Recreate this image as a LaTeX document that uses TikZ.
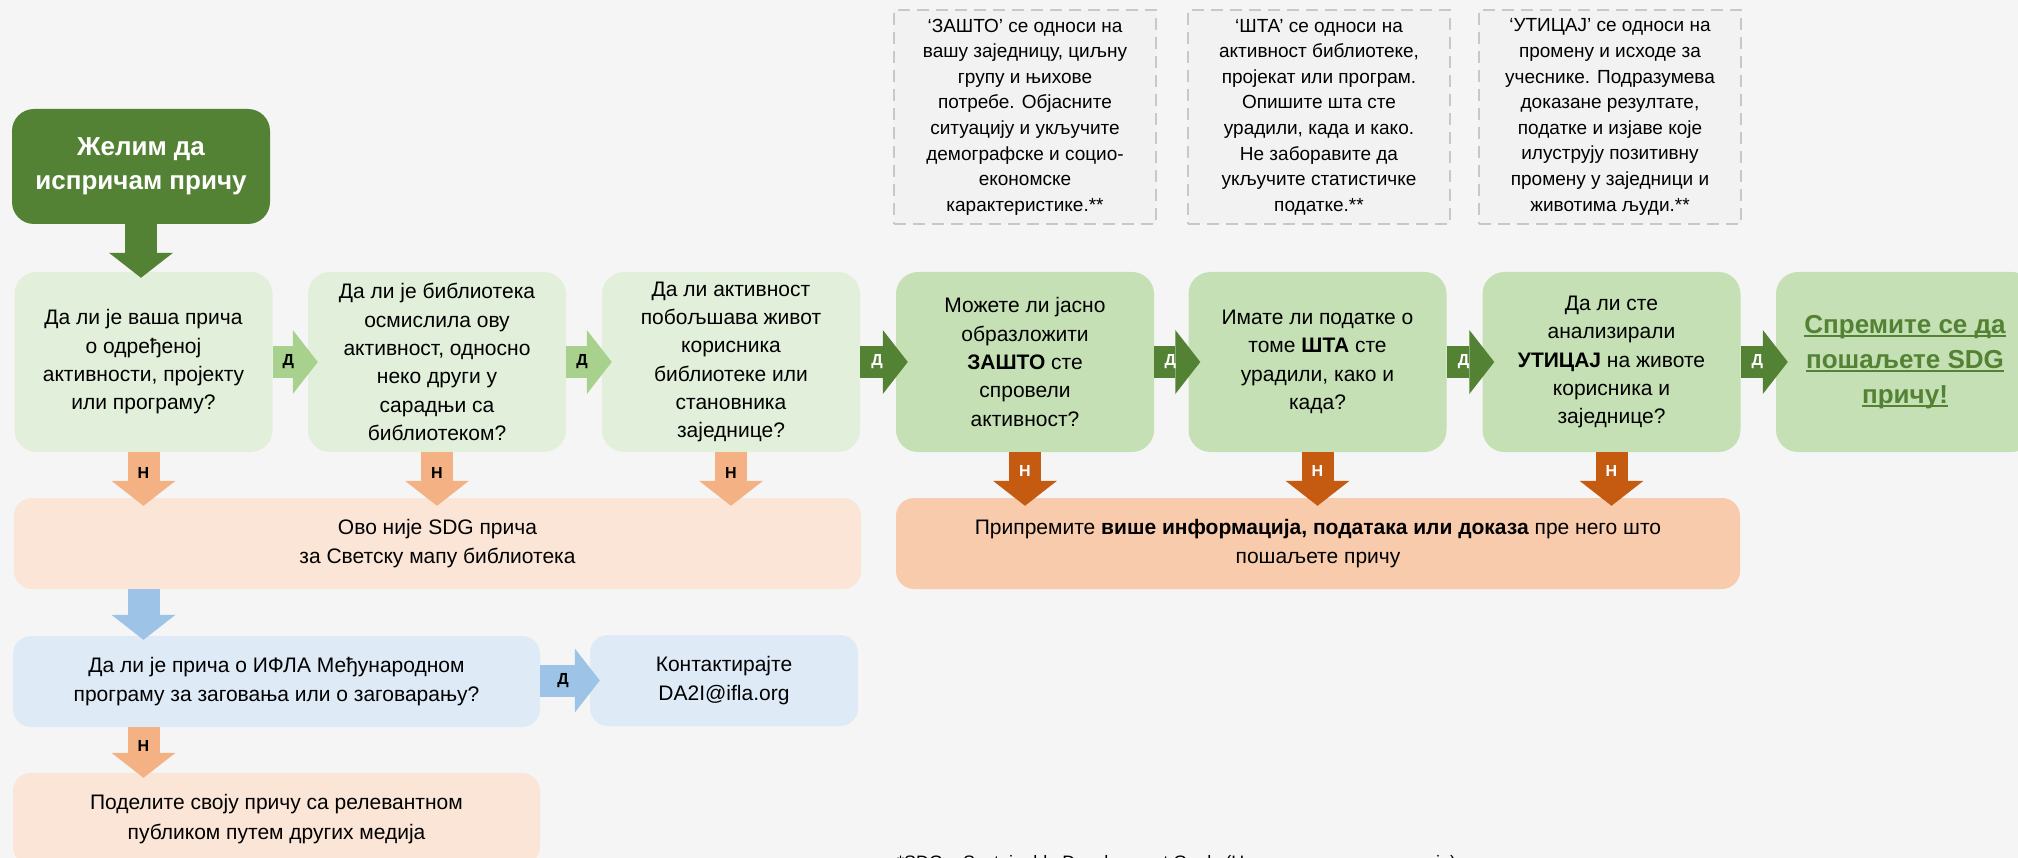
\documentclass[tikz,border=0pt]{standalone}
\usepackage{fontspec}
\setmainfont{Liberation Sans}
\usetikzlibrary{arrows.meta,calc}
\definecolor{bgc}{HTML}{F5F5F5}
\definecolor{dgreen}{HTML}{548235}
\definecolor{lgbox}{HTML}{E2EFDA}
\definecolor{mgbox}{HTML}{C5E0B4}
\definecolor{lgarrow}{HTML}{A9D18E}
\definecolor{peach}{HTML}{FBE5D6}
\definecolor{lorange}{HTML}{F4B183}
\definecolor{dorange}{HTML}{C55A11}
\definecolor{obox}{HTML}{F8CBAD}
\definecolor{bbox}{HTML}{DEEBF7}
\definecolor{barrowc}{HTML}{9DC3E6}
\definecolor{dashc}{HTML}{C8C8C8}
\definecolor{notefill}{HTML}{F2F2F2}
\newcommand\myul[1]{\setbox0\hbox{#1}\rlap{\rule[-3.5pt]{\wd0}{1.8pt}}\box0}
\tikzset{
  qbox/.style={rectangle, rounded corners=22pt, inner sep=0pt, align=center,
    minimum width=258pt, minimum height=180pt,
    font=\fontsize{21}{28.3}\selectfont},
  lightq/.style={qbox, fill=lgbox},
  midq/.style={qbox, fill=mgbox},
  widebox/.style={rectangle, rounded corners=18pt, inner sep=0pt, align=center,
    minimum height=91pt, font=\fontsize{21}{29.5}\selectfont},
  notebox/.style={rectangle, draw=dashc, line width=2pt, dash pattern=on 12pt off 7pt,
    fill=notefill, inner sep=0pt, align=center, minimum width=262pt, minimum height=214pt,
    font=\fontsize{19}{25.6}\selectfont},
  blockarrow/.style={line width=32pt, -{Triangle[length=25pt,width=64pt,line width=0pt]},
    shorten >=-10pt},
  lbl/.style={inner sep=0pt, text=black, font=\bfseries\fontsize{16}{16}\selectfont},
  wlbl/.style={lbl, text=white},
}
\begin{document}
\begin{tikzpicture}[x=1pt,y=-1pt]
\useasboundingbox (0,0) rectangle (2018,858);
\clip (0,0) rectangle (2018,858);
\fill[bgc] (0,0) rectangle (2018,858);

% notes
\node[notebox] (n1) at (1025,117) {‘ЗАШТО’ се односи на\\вашу заједницу, циљну\\групу и њихове\\потребе. Објасните\\ситуацију и укључите\\демографске и социо-\\економске\\карактеристике.**};
\node[notebox] (n2) at (1319,117) {‘ШТА’ се односи на\\активност библиотеке,\\пројекат или програм.\\Опишите шта сте\\урадили, када и како.\\Не заборавите да\\укључите статистичке\\податке.**};
\node[notebox] (n3) at (1610,117) {‘УТИЦАЈ’ се односи на\\промену и исходе за\\учеснике. Подразумева\\доказане резултате,\\податке и изјаве које\\илуструју позитивну\\промену у заједници и\\животима људи.**};

% title
\node[rectangle, rounded corners=22pt, fill=dgreen, text=white, inner sep=0pt, align=center,
  minimum width=258pt, minimum height=115pt, font=\bfseries\fontsize{26}{34}\selectfont]
  (title) at (141,166.5) {Желим да\\испричам причу};

% question row
\node[lightq] (q1) at (143.5,362) {Да ли је ваша прича\\о одређеној\\активности, пројекту\\или програму?};
\node[lightq] (q2) at (437,362) {Да ли је библиотека\\осмислила ову\\активност, односно\\неко други у\\сарадњи са\\библиотеком?};
\node[lightq] (q3) at (731,362) {Да ли активност\\побољшава живот\\корисника\\библиотеке или\\становника\\заједнице?};
\node[midq] (q4) at (1025,362) {Можете ли јасно\\образложити\\\textbf{ЗАШТО} сте\\спровели\\активност?};
\node[midq] (q5) at (1317.5,362) {Имате ли податке о\\томе \textbf{ШТА} сте\\урадили, како и\\када?};
\node[midq] (q6) at (1611.5,362) {Да ли сте\\анализирали\\\textbf{УТИЦАЈ} на животе\\корисника и\\заједнице?};
\node[midq, text=dgreen, font=\bfseries\fontsize{26}{35}\selectfont] (q7) at (1905,362)
  {\myul{Спремите се да}\\\myul{пошаљете SDG}\\\myul{причу!}};

% result boxes
\node[widebox, fill=peach, minimum width=847pt] (no) at (437.5,543.5) {Ово није SDG прича\\за Светску мапу библиотека};
\node[widebox, fill=obox, minimum width=844pt] (prep) at (1318,543.5) {Припремите \textbf{више информација, података или доказа} пре него што\\пошаљете причу};
\node[widebox, fill=bbox, minimum width=527pt] (bq) at (276.5,681.5) {Да ли је прича о ИФЛА Међународном\\програму за заговања или о заговарању?};
\node[widebox, fill=bbox, minimum width=268pt] (contact) at (724,680.5) {Контактирајте\\DA2I@ifla.org};
\node[widebox, fill=peach, minimum width=527pt, minimum height=92pt] (share) at (276.5,819) {Поделите своју причу са релевантном\\публиком путем других медија};

% footnote (cut off by the lower edge, as in the reference)
\node[anchor=base west, inner sep=0pt, font=\fontsize{18}{18}\selectfont] (foot) at (897,868)
  {*SDG – Sustainable Development Goals (Циљеви одрживог развоја)};

% arrows
\draw[blockarrow, dgreen, shorten >=-6pt] (title.south) -- (title.south |- q1.north);

\draw[blockarrow, lgarrow] (q1.east) -- (q2.west) node[midway, lbl, xshift=-2pt] {Д};
\draw[blockarrow, lgarrow] (q2.east) -- (q3.west) node[midway, lbl, xshift=-2pt] {Д};
\draw[blockarrow, dgreen, shorten >=-12pt] (q3.east) -- (q4.west) node[midway, wlbl, xshift=-1pt] {Д};
\draw[blockarrow, dgreen, shorten >=-12pt] (q4.east) -- (q5.west) node[midway, wlbl, xshift=-1pt] {Д};
\draw[blockarrow, dgreen, shorten >=-12pt] (q5.east) -- (q6.west) node[midway, wlbl, xshift=-1pt] {Д};
\draw[blockarrow, dgreen, shorten >=-12pt] (q6.east) -- (q7.west) node[midway, wlbl, xshift=-1pt] {Д};

\draw[blockarrow, lorange, shorten >=-8pt] (q1.south) -- (q1.south |- no.north) node[midway, lbl, yshift=2pt] {Н};
\draw[blockarrow, lorange, shorten >=-8pt] (q2.south) -- (q2.south |- no.north) node[midway, lbl, yshift=2pt] {Н};
\draw[blockarrow, lorange, shorten >=-8pt] (q3.south) -- (q3.south |- no.north) node[midway, lbl, yshift=2pt] {Н};

\draw[blockarrow, dorange, shorten >=-8pt] (q4.south) -- (q4.south |- prep.north) node[midway, wlbl, yshift=4pt] {Н};
\draw[blockarrow, dorange, shorten >=-8pt] (q5.south) -- (q5.south |- prep.north) node[midway, wlbl, yshift=4pt] {Н};
\draw[blockarrow, dorange, shorten >=-8pt] (q6.south) -- (q6.south |- prep.north) node[midway, wlbl, yshift=4pt] {Н};

\draw[blockarrow, barrowc, shorten >=-4pt] (q1.south |- no.south) -- (q1.south |- bq.north);
\draw[blockarrow, barrowc] (bq.east |- contact.west) -- (contact.west) node[midway, lbl, xshift=-2pt] {Д};
\draw[blockarrow, lorange, shorten >=-5pt] (q1.south |- bq.south) -- (q1.south |- share.north) node[midway, lbl, yshift=4pt] {Н};
\end{tikzpicture}
\end{document}
